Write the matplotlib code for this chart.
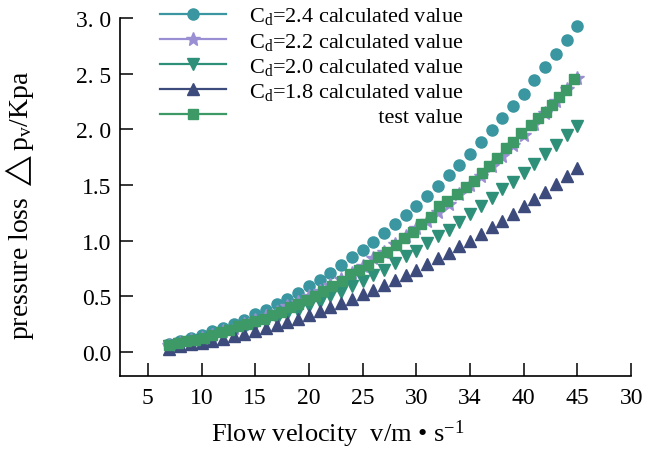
import matplotlib
matplotlib.use("Agg")
import matplotlib.pyplot as plt

plt.rcParams['font.family'] = ['Liberation Serif', 'DejaVu Serif']
plt.rcParams['mathtext.fontset'] = 'custom'
plt.rcParams['mathtext.rm'] = 'Liberation Serif'
plt.rcParams['mathtext.it'] = 'Liberation Serif:italic'
plt.rcParams['mathtext.fallback'] = 'stix'

# calculated values, x = flow velocity
v_calc = [7, 8, 9, 10, 11, 12, 13, 14, 15, 16, 17, 18, 19, 20, 21, 22, 23, 24, 25, 26,
          27, 28, 29, 30, 31, 32, 33, 34, 35, 36, 37, 38, 39, 40, 41, 42, 43, 44, 45]
cd24 = [0.075, 0.10, 0.125, 0.15, 0.19, 0.22, 0.25, 0.29, 0.34, 0.38, 0.43, 0.48, 0.53, 0.59,
        0.65, 0.71, 0.78, 0.85, 0.92, 0.99, 1.07, 1.15, 1.23, 1.31, 1.40, 1.49, 1.59, 1.68,
        1.78, 1.89, 1.99, 2.10, 2.21, 2.32, 2.44, 2.56, 2.68, 2.80, 2.93]
cd22 = [0.065, 0.085, 0.105, 0.13, 0.155, 0.185, 0.215, 0.25, 0.285, 0.32, 0.36, 0.41, 0.45,
        0.50, 0.55, 0.60, 0.66, 0.71, 0.77, 0.84, 0.90, 0.97, 1.04, 1.11, 1.18, 1.26, 1.33,
        1.42, 1.50, 1.58, 1.67, 1.76, 1.86, 1.95, 2.05, 2.15, 2.25, 2.36, 2.46]
cd20 = [0.055, 0.07, 0.09, 0.11, 0.13, 0.15, 0.18, 0.21, 0.24, 0.27, 0.30, 0.34, 0.37, 0.41,
        0.45, 0.50, 0.54, 0.59, 0.64, 0.69, 0.74, 0.80, 0.86, 0.91, 0.98, 1.04, 1.10, 1.17,
        1.24, 1.31, 1.38, 1.46, 1.53, 1.61, 1.69, 1.78, 1.86, 1.95, 2.03]
cd18 = [0.03, 0.05, 0.07, 0.08, 0.10, 0.12, 0.14, 0.165, 0.19, 0.215, 0.24, 0.27, 0.30, 0.33,
        0.37, 0.40, 0.44, 0.48, 0.52, 0.56, 0.60, 0.65, 0.69, 0.74, 0.79, 0.84, 0.89, 0.95,
        1.00, 1.06, 1.12, 1.18, 1.24, 1.31, 1.37, 1.44, 1.51, 1.58, 1.65]

# test values
v_test = [7.0, 7.8, 8.6, 9.4, 10.2, 11.0, 11.8, 12.6, 13.4, 14.2, 15.0, 15.8, 16.6, 17.4,
          18.2, 19.0, 19.8, 20.55, 21.32, 22.16, 23.04, 23.81, 24.67, 25.51, 26.44, 27.28,
          28.09, 28.84, 29.65, 30.48, 31.32, 32.12, 32.90, 33.74, 34.61, 35.35, 36.10, 36.78,
          37.47, 38.33, 38.96, 39.73, 40.66, 41.34, 42.03, 42.64, 43.30, 43.92, 44.69]
test = [0.06, 0.08, 0.10, 0.11, 0.13, 0.15, 0.18, 0.20, 0.23, 0.25, 0.28, 0.30, 0.33, 0.36,
        0.40, 0.43, 0.47, 0.505, 0.545, 0.595, 0.64, 0.70, 0.739, 0.781, 0.85, 0.895, 0.96,
        1.023, 1.08, 1.149, 1.21, 1.313, 1.358, 1.418, 1.478, 1.54, 1.61, 1.67, 1.74, 1.83,
        1.89, 1.97, 2.04, 2.10, 2.16, 2.22, 2.29, 2.355, 2.45]

xticks = [5, 10, 15, 20, 25, 30, 35, 40, 45, 50]
xtick_labels = ['5', '10', '15', '20', '25', '30', '34', '40', '45', '30']
yticks = [0.0, 0.5, 1.0, 1.5, 2.0, 2.5, 3.0]
ytick_labels = ['0.0', '0.5', '1.0', '1.5', '2. 0', '2. 5', '3. 0']

fig = plt.figure(figsize=(6.48, 4.52), dpi=100)
ax = fig.add_axes([0.185, 0.166, 0.789, 0.792])

ms = 8
ax.plot(v_calc, cd24, 'o', color='#3a96a0', ms=ms, label=r'C$_\mathregular{d}$=2.4 calculated value')
ax.plot(v_calc, cd22, '*', color='#9b8fd3', ms=ms + 2, label=r'C$_\mathregular{d}$=2.2 calculated value')
ax.plot(v_calc, cd20, 'v', color='#2e9079', ms=ms, label=r'C$_\mathregular{d}$=2.0 calculated value')
ax.plot(v_calc, cd18, '^', color='#3d4b7c', ms=ms, label=r'C$_\mathregular{d}$=1.8 calculated value')
ax.plot(v_test, test, 's', color='#3d9966', ms=ms - 0.5, label='test value')

ax.set_xlim(2.4, 50)
ax.set_ylim(-0.215, 3.0)
ax.set_xticks(xticks)
ax.set_xticklabels(xtick_labels)
ax.set_yticks(yticks)
ax.set_yticklabels(ytick_labels)
ax.tick_params(direction='in', length=9.5, width=1.1, labelsize=17)
ax.tick_params(axis='x', pad=8)
ax.tick_params(axis='y', pad=6)
for s in ['top', 'right']:
    ax.spines[s].set_visible(False)
for s in ['left', 'bottom']:
    ax.spines[s].set_linewidth(1.2)

ax.set_xlabel(r'Flow velocity  v/m • s$^{\mathregular{-1}}$', fontsize=19)
ax.xaxis.set_label_coords(0.427, -0.115)
ax.set_ylabel(r'pressure loss $\mathregular{\triangle}$p$_\mathregular{v}$/Kpa', fontsize=20)
ax.yaxis.set_label_coords(-0.165, 0.48)

handles, labels = ax.get_legend_handles_labels()
for h in handles:
    h.set_linestyle('-')
    h.set_linewidth(1.6)
leg = ax.legend(handles, labels, loc='upper left', bbox_to_anchor=(0.078, 1.035),
                frameon=False, fontsize=16, handlelength=3.0, handletextpad=1.0,
                labelspacing=0.19, borderpad=0, borderaxespad=0)
for h in handles:
    h.set_linestyle('None')

# right-align the last label with the others
fig.canvas.draw()
r = fig.canvas.get_renderer()
w_long = leg.texts[0].get_window_extent(r).width
w_test = leg.texts[-1].get_window_extent(r).width
leg.texts[-1].set_text(' ')
w_sp = leg.texts[-1].get_window_extent(r).width
n = int(round((w_long - w_test) / w_sp))
leg.texts[-1].set_text(' ' * n + 'test value')

fig.savefig('out.png', dpi=100)
